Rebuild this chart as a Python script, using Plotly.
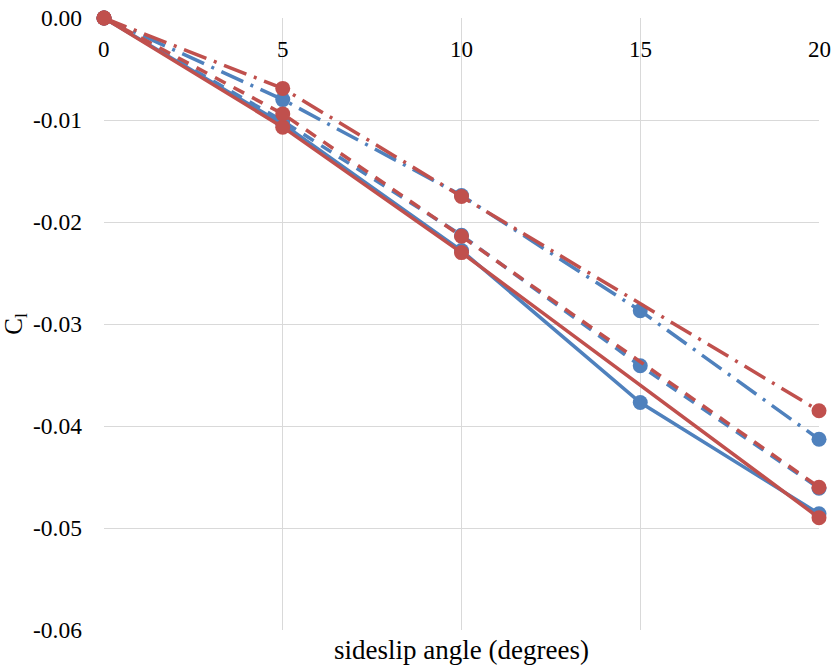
import plotly.graph_objects as go

x_blue = [0, 5, 10, 15, 20]
x_red = [0, 5, 10, 20]

blue_solid = [0, -0.0104, -0.0228, -0.0377, -0.0486]
blue_dash = [0, -0.0101, -0.0213, -0.0341, -0.0461]
blue_dashdot = [0, -0.0080, -0.0174, -0.0287, -0.0413]

red_solid = [0, -0.0107, -0.0230, -0.0490]
red_dash = [0, -0.0094, -0.0214, -0.0460]
red_dashdot = [0, -0.0069, -0.0175, -0.0385]

x_ticks = [0, 5, 10, 15, 20]
x_tick_labels = ["0", "5", "10", "15", "20"]
y_ticks = [0, -0.01, -0.02, -0.03, -0.04, -0.05, -0.06]
y_tick_labels = ["0.00", "-0.01", "-0.02", "-0.03", "-0.04", "-0.05", "-0.06"]

BLUE = "#4F81BD"
RED = "#C0504D"
DASH = "12px,9px"
DASHDOT = "24px,8px,3px,8px"
FONT = "Liberation Serif"

fig = go.Figure()

def add(x, y, color, dash):
    fig.add_trace(go.Scatter(
        x=x, y=y, mode="lines+markers",
        line=dict(color=color, width=3.5, dash=dash),
        marker=dict(color=color, size=15),
        showlegend=False, cliponaxis=False,
    ))

add(x_blue, blue_solid, BLUE, "solid")
add(x_blue, blue_dash, BLUE, DASH)
add(x_blue, blue_dashdot, BLUE, DASHDOT)
add(x_red, red_solid, RED, "solid")
add(x_red, red_dash, RED, DASH)
add(x_red, red_dashdot, RED, DASHDOT)

annotations = [dict(
    text=t, x=v, y=0, xref="x", yref="y", yanchor="middle", xanchor="center",
    yshift=-31, showarrow=False, font=dict(size=23, family=FONT, color="#000"),
) for v, t in zip(x_ticks, x_tick_labels)]
annotations.append(dict(
    text="sideslip angle (degrees)", xref="paper", yref="paper",
    x=0.5, y=0, yshift=-20, yanchor="middle", showarrow=False,
    font=dict(size=27, family=FONT, color="#000"),
))

fig.update_layout(
    width=832, height=667,
    margin=dict(l=104, r=13, t=18, b=37, autoexpand=False),
    plot_bgcolor="white", paper_bgcolor="white",
    font=dict(family=FONT, size=23, color="#000000"),
    xaxis=dict(
        range=[0, 20], tickvals=x_ticks, showticklabels=False, ticks="",
        showgrid=True, gridcolor="#D9D9D9", gridwidth=1.2,
        zeroline=False, showline=False, automargin=False,
    ),
    yaxis=dict(
        range=[-0.06, 0], tickvals=y_ticks, ticktext=y_tick_labels,
        showgrid=True, gridcolor="#D9D9D9", gridwidth=1.2,
        zeroline=False, showline=False, ticks="", automargin=False,
        ticklabelstandoff=21,
        tickfont=dict(size=23.5, family=FONT, color="#000"),
        title=dict(text="C<sub>l</sub>", font=dict(size=25, family=FONT, color="#000"), standoff=8),
    ),
    annotations=annotations,
)

fig.write_html(
    "out.html",
    config={"displayModeBar": False},
    post_script="document.body.style.margin='0';document.body.style.overflow='hidden';",
)
